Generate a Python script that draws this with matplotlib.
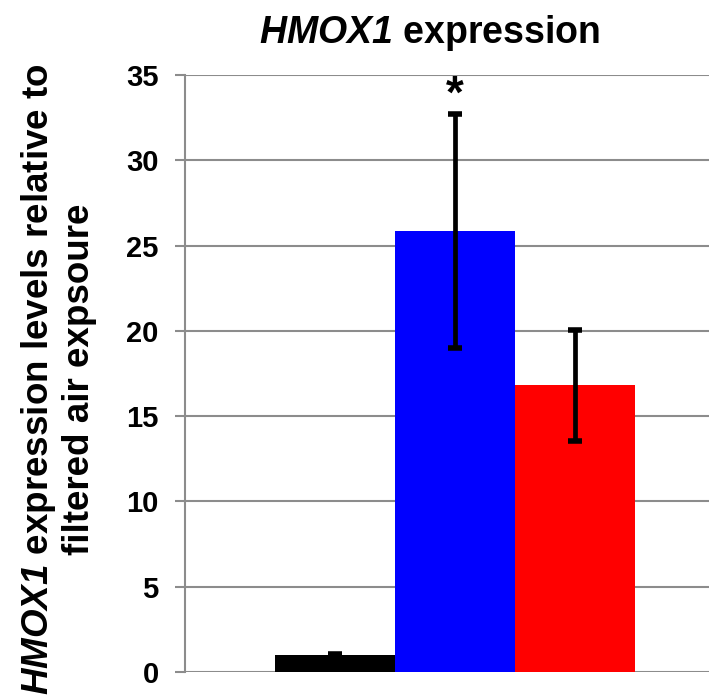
import matplotlib
matplotlib.use("Agg")
import matplotlib.pyplot as plt

plt.rcParams['font.family'] = ['Liberation Sans', 'DejaVu Sans']
plt.rcParams['font.weight'] = 'bold'
plt.rcParams['mathtext.fontset'] = 'custom'
# the gene name is italic bold, digits included
plt.rcParams['mathtext.it'] = 'Liberation Sans:italic:bold'
plt.rcParams['mathtext.rm'] = 'Liberation Sans:italic:bold'

# data
groups = ["Filtered air", "Exposure A", "Exposure B"]
values = [1.0, 25.85, 16.8]
errors = [0.05, 6.85, 3.25]
colors = ["#000000", "#0000ff", "#ff0000"]
yticks = [0, 5, 10, 15, 20, 25, 30, 35]
star_group = 1

fig = plt.figure(figsize=(7.09, 6.99), dpi=100)
ax = fig.add_axes([0.261, 0.0386, 0.739, 0.8541])

x = list(range(len(groups)))
ax.bar(x, values, width=1.0, color=colors, zorder=2)
ax.errorbar(x, values, yerr=errors, fmt='none', ecolor='black',
            elinewidth=3.4, capsize=5, capthick=4, zorder=3)

ax.text(star_group, 33.8, "*", ha='center', va='center',
        fontsize=33, fontweight='bold')

ax.set_xlim(-1.25, 3.117)
ax.set_ylim(0, 35)
ax.set_yticks(yticks)
ax.set_xticks([])
ax.yaxis.grid(True, color='#8c8c8c', linewidth=1.5, zorder=0)
ax.set_axisbelow(True)

for side in ['top', 'right', 'bottom']:
    ax.spines[side].set_visible(False)
ax.spines['left'].set_color('#8c8c8c')
ax.spines['left'].set_linewidth(1.5)
ax.tick_params(axis='y', colors='#8c8c8c', length=7, width=1.5,
               labelcolor='black', labelsize=21, pad=12)
for lbl in ax.get_yticklabels():
    lbl.set_fontweight('bold')

fig.text(430 / 709, 1 - 43 / 699, r"$HMOX1$ expression", fontsize=27,
         fontweight='bold', ha='center', va='baseline')
ax.set_ylabel(r"$HMOX1$ expression levels relative to" + "\n"
              + "filtered air expsoure", fontsize=26.5, fontweight='bold',
              linespacing=1.15)
ax.yaxis.set_label_coords(-0.168, 0.49)

fig.savefig("out.png", dpi=100)
